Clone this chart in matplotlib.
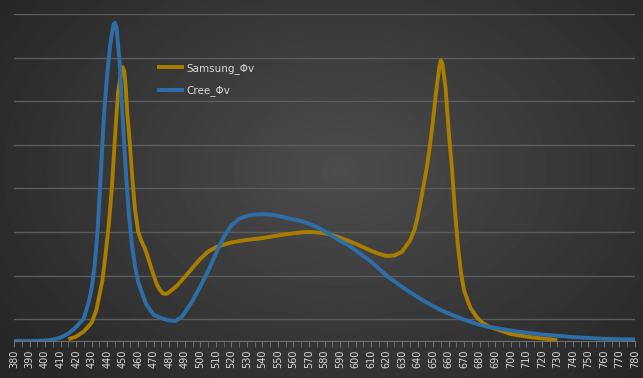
import numpy as np
import matplotlib
matplotlib.use("Agg")
import matplotlib.pyplot as plt

# Cree spectrum (relative flux)
cree_nm = [380, 390, 400, 405, 410, 415, 420, 425, 428, 430, 432, 434, 436, 438,
           440, 442, 444, 445, 446, 448, 450, 452, 454, 456, 458, 460, 465, 470,
           475, 480, 484, 488, 490, 495, 500, 505, 510, 515, 520, 525, 530, 535,
           540, 545, 550, 555, 560, 565, 570, 575, 580, 585, 590, 595, 600, 605,
           610, 615, 620, 625, 630, 635, 640, 645, 650, 655, 660, 665, 670, 675,
           680, 685, 690, 695, 700, 710, 720, 730, 740, 750, 760, 770, 780]
cree_phi = [0.0, 0.0, 0.01, 0.03, 0.08, 0.17, 0.32, 0.52, 0.88, 1.2, 1.75, 2.6, 3.9, 5.2,
            6.1, 6.8, 7.25, 7.3, 7.2, 6.4, 5.1, 3.9, 2.9, 2.2, 1.7, 1.35, 0.85, 0.6,
            0.52, 0.47, 0.46, 0.55, 0.65, 0.92, 1.25, 1.6, 2.0, 2.38, 2.65, 2.8, 2.87, 2.9,
            2.91, 2.9, 2.87, 2.83, 2.79, 2.75, 2.69, 2.62, 2.52, 2.41, 2.3, 2.21, 2.08, 1.95,
            1.82, 1.66, 1.5, 1.37, 1.24, 1.12, 1.01, 0.9, 0.8, 0.71, 0.63, 0.56, 0.49, 0.43,
            0.37, 0.33, 0.3, 0.27, 0.24, 0.19, 0.15, 0.12, 0.09, 0.07, 0.05, 0.04, 0.04]

# Samsung spectrum (relative flux)
samsung_nm = [415, 420, 425, 430, 433, 435, 437, 439, 441, 443, 445, 447, 449, 450,
              451, 452, 453, 454, 455, 456, 457, 458, 460, 462, 464, 466, 468, 470,
              472, 474, 476, 478, 480, 485, 490, 495, 500, 505, 510, 515, 520, 525,
              530, 535, 540, 545, 550, 555, 560, 565, 570, 575, 580, 585, 590, 595,
              600, 605, 610, 615, 620, 625, 630, 635, 638, 640, 643, 646, 648, 650,
              652, 654, 655, 656, 658, 660, 662, 664, 666, 668, 670, 672, 674, 678,
              682, 686, 690, 695, 700, 705, 710, 720, 730]
samsung_phi = [0.04, 0.1, 0.22, 0.42, 0.7, 1.05, 1.4, 2.0, 2.65, 3.5, 4.65, 5.7, 6.15, 6.28,
               6.2, 5.8, 5.2, 4.8, 4.35, 3.85, 3.4, 3.0, 2.5, 2.3, 2.15, 1.95, 1.72, 1.5,
               1.3, 1.17, 1.09, 1.08, 1.12, 1.27, 1.47, 1.68, 1.88, 2.05, 2.15, 2.21, 2.26, 2.29,
               2.32, 2.34, 2.36, 2.39, 2.42, 2.45, 2.47, 2.49, 2.5, 2.49, 2.47, 2.43, 2.37, 2.3,
               2.23, 2.15, 2.07, 2.0, 1.95, 1.96, 2.05, 2.3, 2.55, 2.85, 3.4, 4.0, 4.5, 5.1,
               5.75, 6.3, 6.44, 6.35, 5.8, 4.8, 4.0, 3.0, 2.15, 1.55, 1.15, 0.95, 0.76, 0.55,
               0.41, 0.33, 0.28, 0.22, 0.16, 0.13, 0.1, 0.06, 0.02]

xticks = list(range(380, 781, 10))
text_col = "#d9d9d9"
grid_col = "#5c5c5c"

fig = plt.figure(figsize=(6.43, 3.78), dpi=100)

# radial dark background
bg = fig.add_axes([0, 0, 1, 1], zorder=-1)
yy, xx = np.mgrid[0:378, 0:643]
r = np.sqrt(((xx - 340) / 420.0) ** 2 + ((yy - 170) / 300.0) ** 2)
shade = 0.30 - 0.15 * np.clip(r, 0, 1)
bg.imshow(shade, cmap="gray", vmin=0, vmax=1, aspect="auto")
bg.axis("off")

ax = fig.add_axes([14 / 643, 37 / 378, 621 / 643, 327 / 378])
ax.patch.set_alpha(0)

ax.plot(samsung_nm, samsung_phi, color="#A97D00", lw=2.8, label="Samsung_\u03a6v",
        solid_capstyle="butt", solid_joinstyle="round", zorder=3)
ax.plot(cree_nm, cree_phi, color="#2E6EA8", lw=2.8, label="Cree_\u03a6v",
        solid_capstyle="butt", solid_joinstyle="round", zorder=4)

ax.set_xlim(380, 780)
ax.set_ylim(0, 7.5)
ax.set_yticks(np.arange(0.5, 7.6, 1.0))
ax.yaxis.grid(True, color=grid_col, lw=1)
ax.tick_params(axis="y", length=0, labelleft=False)

ax.set_xticks(xticks)
ax.set_xticks(range(385, 780, 10), minor=True)
ax.set_xticklabels([str(t) for t in xticks], rotation=90, fontsize=7, color=text_col)
ax.tick_params(axis="x", which="both", direction="out", length=4, color="#6e6e6e", pad=2)

for s in ["top", "right", "left"]:
    ax.spines[s].set_visible(False)
ax.spines["bottom"].set_color("#6e6e6e")

leg = fig.legend(loc="upper left", bbox_to_anchor=(157 / 643, 315 / 378), frameon=False,
                 fontsize=7.5, handlelength=2.6, handletextpad=0.2, labelspacing=1.1,
                 borderpad=0, borderaxespad=0)
for t in leg.get_texts():
    t.set_color(text_col)

plt.savefig("out.png", dpi=100)
plt.close()
